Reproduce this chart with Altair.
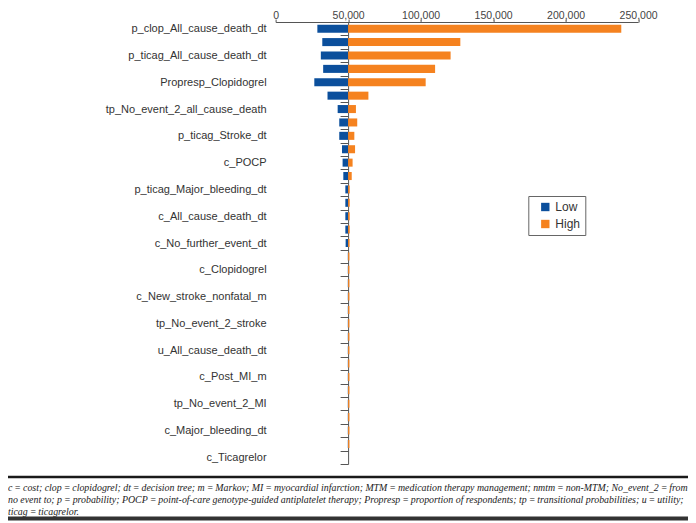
import json
import altair as alt
import pandas as pd

# ---- data ----
shown_labels = [
    "p_clop_All_cause_death_dt",
    "p_ticag_All_cause_death_dt",
    "Propresp_Clopidogrel",
    "tp_No_event_2_all_cause_death",
    "p_ticag_Stroke_dt",
    "c_POCP",
    "p_ticag_Major_bleeding_dt",
    "c_All_cause_death_dt",
    "c_No_further_event_dt",
    "c_Clopidogrel",
    "c_New_stroke_nonfatal_m",
    "tp_No_event_2_stroke",
    "u_All_cause_death_dt",
    "c_Post_MI_m",
    "tp_No_event_2_MI",
    "c_Major_bleeding_dt",
    "c_Ticagrelor",
]
low_values = [28800, 32200, 31200, 32800, 26700, 35800, 42800, 43900, 43900, 45800,
              46200, 46700, 48100, 48100, 48100, 48100, 48300, 49800, 49800, 49800,
              49800, 49800, 49800, 49800, 49800, 49800, 49800, 49800, 49800, 49800,
              49800, 49800, 50000]
high_values = [238400, 127400, 120700, 110000, 103500, 64000, 55400, 56300, 54300, 54800,
               53100, 52500, 51100, 51100, 51100, 51100, 51000, 50900, 50900, 50900,
               50900, 50900, 50900, 50900, 50900, 50900, 50900, 50900, 50900, 50900,
               50900, 50900, 50000]
base_value = 50000
x_ticks = [0, 50000, 100000, 150000, 200000, 250000]
bounds = ["Low", "High"]
bound_colors = ["#0b4f9c", "#f5821f"]

footnote_lines = [
    "c\u2009=\u2009cost; clop\u2009=\u2009clopidogrel; dt\u2009=\u2009decision tree; m\u2009=\u2009Markov; MI\u2009=\u2009myocardial infarction; MTM\u2009=\u2009medication therapy management; nmtm\u2009=\u2009non-MTM; No_event_2\u2009=\u2009from",
    "no event to; p\u2009=\u2009probability; POCP\u2009=\u2009point-of-care genotype-guided antiplatelet therapy; Propresp\u2009=\u2009proportion of respondents; tp\u2009=\u2009transitional probabilities; u\u2009=\u2009utility;",
    "ticag\u2009=\u2009ticagrelor.",
]

# every other category carries a visible label (as in the source axis)
n_rows = len(low_values)
row_labels = [shown_labels[i // 2] if i % 2 == 0 else "" for i in range(n_rows)]

records = []
for i in range(n_rows):
    records.append({"row": i + 1, "bound": "Low", "value": low_values[i], "base": base_value})
    records.append({"row": i + 1, "bound": "High", "value": high_values[i], "base": base_value})
df = pd.DataFrame(records)

# ---- layout (pixels) ----
W, H = 362.5, 442
PAD = {"left": 267.6, "top": 14, "right": 49.9, "bottom": 59}

label_expr = json.dumps(row_labels) + "[datum.value - 1]"

bars = alt.Chart(df).mark_bar(height={"band": 0.6}).encode(
    y=alt.Y(
        "row:O",
        sort="ascending",
        scale=alt.Scale(paddingInner=0, paddingOuter=0),
        axis=alt.Axis(
            title=None,
            labelExpr=label_expr,
            tickBand="extent",
            tickSize=8,
            tickColor="#555555",
            domainColor="#555555",
            offset=-72.5,
            labelPadding=74,
            labelFont="Liberation Sans",
            labelFontSize=11,
            labelColor="#333333",
            labelLimit=400,
        ),
    ),
    x=alt.X(
        "value:Q",
        scale=alt.Scale(domain=[0, 250000], nice=False, zero=False),
        axis=alt.Axis(
            orient="top",
            title=None,
            values=x_ticks,
            format=",d",
            grid=False,
            tickSize=3,
            labelPadding=1,
            labelFlush=False,
            labelBaseline="alphabetic",
            tickColor="#555555",
            domainColor="#555555",
            labelFont="Liberation Sans",
            labelFontSize=10.5,
            labelColor="#444444",
        ),
    ),
    x2="base:Q",
    color=alt.Color(
        "bound:N",
        scale=alt.Scale(domain=bounds, range=bound_colors),
        sort=bounds,
        legend=alt.Legend(
            title=None,
            orient="none",
            legendX=252.7,
            legendY=174,
            strokeColor="#666666",
            padding=5,
            symbolOffset=6,
            symbolType="square",
            symbolSize=70,
            symbolStrokeWidth=0,
            rowPadding=5,
            labelFont="Liberation Sans",
            labelFontSize=12,
            labelColor="#333333",
        ),
    ),
)

one = alt.Data(values=[{"k": 1}])

top_rule = alt.Chart(one).mark_rule(color="#1a1a1a", strokeWidth=2.5).encode(
    x=alt.value(-PAD["left"]), x2=alt.value(W + PAD["right"]), y=alt.value(455)
)
bottom_rule = alt.Chart(one).mark_rule(color="#333333", strokeWidth=4).encode(
    x=alt.value(-PAD["left"]), x2=alt.value(W + PAD["right"]), y=alt.value(496.5)
)
note = alt.Chart(alt.Data(values=[{"t": "\n".join(footnote_lines)}])).mark_text(
    align="left", baseline="top", lineBreak="\n", lineHeight=11.8,
    font="Liberation Serif", fontStyle="italic", fontSize=9.9, color="#222222",
).encode(text="t:N", x=alt.value(-PAD["left"]), y=alt.value(461))

chart = alt.layer(bars, top_rule, bottom_rule, note).properties(
    width=W, height=H,
    autosize=alt.AutoSizeParams(type="none"),
    padding=PAD,
).configure_view(stroke=None)

chart.save("out.html", embed_options={"renderer": "svg", "actions": False})
